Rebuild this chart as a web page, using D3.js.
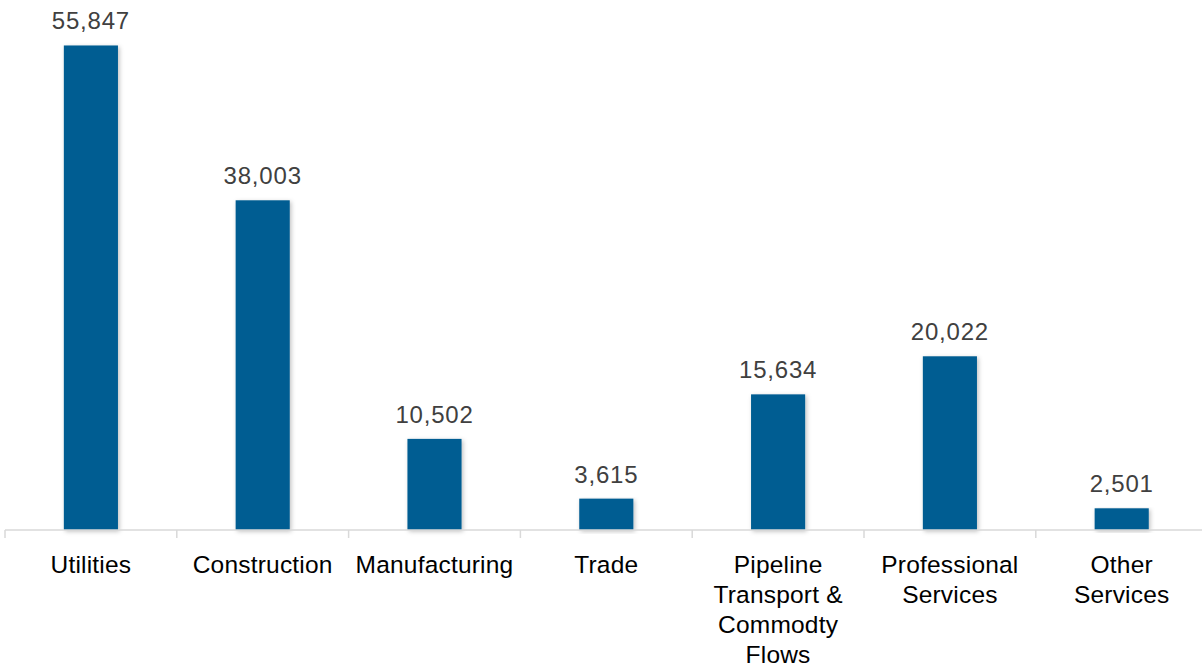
<!DOCTYPE html>
<html>
<head>
<meta charset="utf-8">
<script src="https://cdn.jsdelivr.net/npm/d3@7/dist/d3.min.js"></script>
<style>
  html, body { margin: 0; padding: 0; background: #fff; }
  svg { display: block; }
</style>
</head>
<body>
<svg id="chart" width="1202" height="669"></svg>
<script>
// Employment by sector
const categories = [
  ["Utilities"],
  ["Construction"],
  ["Manufacturing"],
  ["Trade"],
  ["Pipeline", "Transport &", "Commodty", "Flows"],
  ["Professional", "Services"],
  ["Other", "Services"]
];
const values = [55847, 38003, 10502, 3615, 15634, 20022, 2501];
const yDomain = [0, 60000];

const svg = d3.select("#chart");

const keys = categories.map(c => c.join(" "));
const x = d3.scaleBand().domain(keys).range([5, 5 + 171.8 * keys.length]).padding(0);
const y = d3.scaleLinear().domain(yDomain).range([530, 530 - 60000 * 0.008676]);

const barW = x.bandwidth() * 0.315;

const defs = svg.append("defs");
const f = defs.append("filter").attr("id", "shadow")
  .attr("x", "-20%").attr("y", "-5%").attr("width", "150%").attr("height", "115%");
f.append("feDropShadow").attr("dx", 1.5).attr("dy", 1.5).attr("stdDeviation", 2)
  .attr("flood-color", "#000").attr("flood-opacity", 0.25);

// bars
svg.append("g").selectAll("rect").data(values).join("rect")
  .attr("x", (d, i) => x(keys[i]) + (x.bandwidth() - barW) / 2)
  .attr("y", d => y(d))
  .attr("width", barW)
  .attr("height", d => y(0) - y(d))
  .attr("fill", "#045d92")
  .attr("filter", "url(#shadow)");

// x axis with ticks between categories
const axis = svg.append("g").attr("transform", `translate(0,${y(0)})`);
axis.append("line")
  .attr("x1", x.range()[0]).attr("x2", x.range()[1])
  .attr("stroke", "#d9d9d9").attr("stroke-width", 1.5);
const edges = keys.map(k => x(k)).concat([x.range()[1]]);
axis.selectAll(".tk").data(edges).join("line").attr("class", "tk")
  .attr("x1", d => d).attr("x2", d => d)
  .attr("y1", 0).attr("y2", 8)
  .attr("stroke", "#d9d9d9").attr("stroke-width", 1.5);

// category labels
const labels = svg.append("g")
  .attr("font-family", "'Liberation Sans', Arial, sans-serif")
  .attr("font-size", 24.5)
  .attr("letter-spacing", 0.2)
  .attr("fill", "#000")
  .attr("text-anchor", "middle");
categories.forEach((lines, i) => {
  const cx = x(keys[i]) + x.bandwidth() / 2;
  const t = labels.append("text").attr("x", cx).attr("y", 573);
  lines.forEach((ln, j) => {
    t.append("tspan")
      .attr("x", cx)
      .attr("dy", j === 0 ? 0 : 30)
      .text(ln);
  });
});

// value labels
const fmt = d3.format(",");
svg.append("g")
  .attr("font-family", "'Liberation Sans', Arial, sans-serif")
  .attr("font-size", 24)
  .attr("letter-spacing", 0.8)
  .attr("fill", "#404040")
  .attr("text-anchor", "middle")
  .selectAll("text").data(values).join("text")
  .attr("x", (d, i) => x(keys[i]) + x.bandwidth() / 2)
  .attr("y", d => y(d) - 16)
  .text(d => fmt(d));
</script>
</body>
</html>
